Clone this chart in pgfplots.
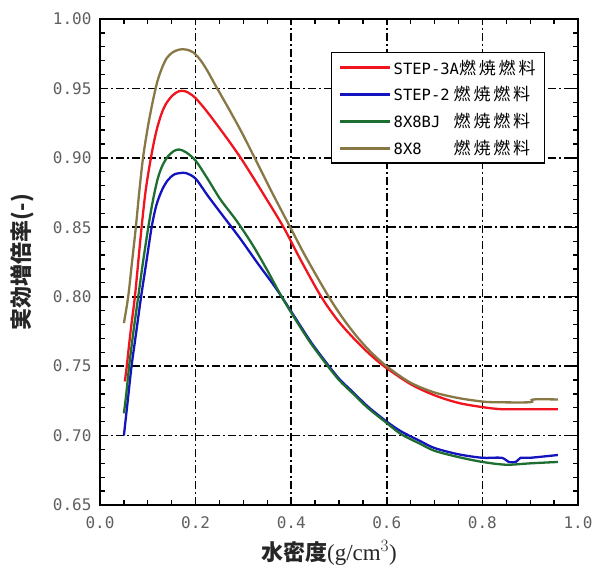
\documentclass[border=0pt]{standalone}
\usepackage{pgfplots}
\pgfplotsset{compat=1.18}
\usepackage{fontspec}
\setmainfont{Noto Sans CJK JP}
\newfontfamily\jp{Noto Sans CJK JP}
\newfontfamily\mono{DejaVu Sans Mono}
\newfontfamily\serif{Liberation Serif}
\definecolor{cred}{RGB}{240,20,30}
\definecolor{cblue}{RGB}{20,20,190}
\definecolor{cgreen}{RGB}{30,110,50}
\definecolor{colive}{RGB}{135,120,70}
\definecolor{tickgray}{RGB}{95,95,95}
\newcommand{\nen}{{\jp\fontsize{17}{17}\selectfont 燃\,焼\,燃\,料}}
\newcommand{\lt}[1]{{\mono\fontsize{15.5}{16}\selectfont #1}}
\begin{document}
\begin{tikzpicture}
\begin{axis}[name=ax, scale only axis, width=478pt, height=486pt,
  xmin=0, xmax=1, ymin=0.65, ymax=1.00,
  xtick={0,0.2,0.4,0.6,0.8,1.0}, ytick={0.65,0.70,0.75,0.80,0.85,0.90,0.95,1.00},
  minor x tick num=3, minor y tick num=4,
  tick align=inside, major tick length=6pt, minor tick length=5pt,
  grid=major,
  major grid style={black, line width=1.8pt, dash pattern=on 8pt off 3pt on 2pt off 3pt},
  axis line style={line width=2pt},
  tick style={black, line width=1.3pt},
  /pgf/number format/assume math mode=true,
  ticklabel style={font=\mono\fontsize{16}{16}\selectfont, text=tickgray},
  yticklabel style={xshift=-5pt, /pgf/number format/.cd, fixed, fixed zerofill, precision=2},
  xticklabel style={yshift=-8pt, /pgf/number format/.cd, fixed, fixed zerofill, precision=1},
  xlabel={{\jp\bfseries 水密度}{\serif\fontsize{23}{23}\selectfont(g/cm$^{3}$)}},
  ylabel={{\jp\bfseries 実効増倍率(-)}},
  label style={font=\fontsize{22}{22}\selectfont, text=black!85},
  xlabel style={at={(axis description cs:0.479,-0.099)}, anchor=center},
  ylabel style={at={(axis description cs:-0.163,0.5)}, anchor=center},
  legend style={at={(axis description cs:0.483,0.932)}, anchor=north west, draw=black, line width=1.3pt, fill=white, inner xsep=7pt, inner ysep=5pt, cells={anchor=west}, row sep=7pt},
  legend image code/.code={\draw[#1, line width=3.2pt] (0pt,0pt) -- (50pt,0pt);},
  every axis plot/.append style={line width=2.3pt, smooth},
]
\addplot[cred] coordinates {(0.052,0.739)(0.056,0.750)(0.064,0.775)(0.073,0.800)(0.080,0.825)(0.087,0.850)(0.095,0.875)(0.103,0.893)(0.112,0.910)(0.120,0.922)(0.130,0.933)(0.140,0.940)(0.152,0.945)(0.165,0.948)(0.178,0.948)(0.189,0.946)(0.200,0.943)(0.220,0.935)(0.240,0.926)(0.270,0.912)(0.300,0.897)(0.340,0.875)(0.384,0.850)(0.419,0.827)(0.461,0.801)(0.495,0.784)(0.528,0.771)(0.560,0.760)(0.594,0.750)(0.650,0.737)(0.700,0.729)(0.750,0.7235)(0.800,0.7205)(0.840,0.719)(0.900,0.719)(0.958,0.719)};
\addlegendentry{\lt{STEP-3A}\nen}
\addplot[cblue] coordinates {(0.050,0.700)(0.058,0.725)(0.066,0.750)(0.076,0.775)(0.086,0.800)(0.097,0.825)(0.108,0.850)(0.118,0.866)(0.130,0.877)(0.142,0.884)(0.155,0.888)(0.167,0.889)(0.180,0.889)(0.200,0.885)(0.227,0.872)(0.260,0.857)(0.293,0.842)(0.330,0.824)(0.360,0.810)(0.380,0.800)(0.410,0.784)(0.440,0.768)(0.470,0.754)(0.500,0.741)(0.530,0.731)(0.560,0.721)(0.600,0.710)(0.630,0.703)(0.670,0.696)(0.700,0.691)(0.750,0.6865)(0.800,0.684)(0.840,0.684)(0.855,0.681)(0.870,0.681)(0.880,0.684)(0.900,0.684)(0.958,0.686)};
\addlegendentry{\makebox[60pt][l]{\lt{STEP-2}}\nen}
\addplot[cgreen] coordinates {(0.050,0.716)(0.055,0.730)(0.061,0.750)(0.070,0.775)(0.080,0.800)(0.090,0.825)(0.101,0.850)(0.110,0.868)(0.120,0.884)(0.130,0.894)(0.142,0.901)(0.155,0.905)(0.166,0.906)(0.180,0.904)(0.200,0.898)(0.225,0.885)(0.252,0.870)(0.285,0.855)(0.318,0.838)(0.350,0.819)(0.380,0.800)(0.410,0.783)(0.440,0.767)(0.470,0.753)(0.500,0.740)(0.530,0.730)(0.560,0.720)(0.600,0.709)(0.630,0.701)(0.670,0.694)(0.700,0.689)(0.750,0.6845)(0.800,0.681)(0.850,0.679)(0.900,0.680)(0.958,0.681)};
\addlegendentry{\makebox[60pt][l]{\lt{8X8BJ}}\nen}
\addplot[colive] coordinates {(0.050,0.781)(0.059,0.800)(0.067,0.825)(0.075,0.850)(0.082,0.875)(0.090,0.900)(0.100,0.922)(0.110,0.940)(0.120,0.955)(0.130,0.965)(0.140,0.972)(0.152,0.976)(0.166,0.978)(0.180,0.978)(0.195,0.976)(0.210,0.9705)(0.225,0.9625)(0.241,0.9525)(0.270,0.935)(0.297,0.918)(0.325,0.899)(0.360,0.875)(0.398,0.850)(0.430,0.829)(0.475,0.802)(0.505,0.786)(0.538,0.771)(0.570,0.759)(0.603,0.749)(0.650,0.738)(0.700,0.731)(0.750,0.727)(0.800,0.7245)(0.830,0.724)(0.900,0.724)(0.906,0.726)(0.958,0.726)};
\addlegendentry{\makebox[60pt][l]{\lt{8X8}}\nen}
\end{axis}
\pgfresetboundingbox
\path ([shift={(-100pt,-72pt)}]ax.south west) rectangle ([shift={(17pt,19pt)}]ax.north east);
\end{tikzpicture}
\end{document}
